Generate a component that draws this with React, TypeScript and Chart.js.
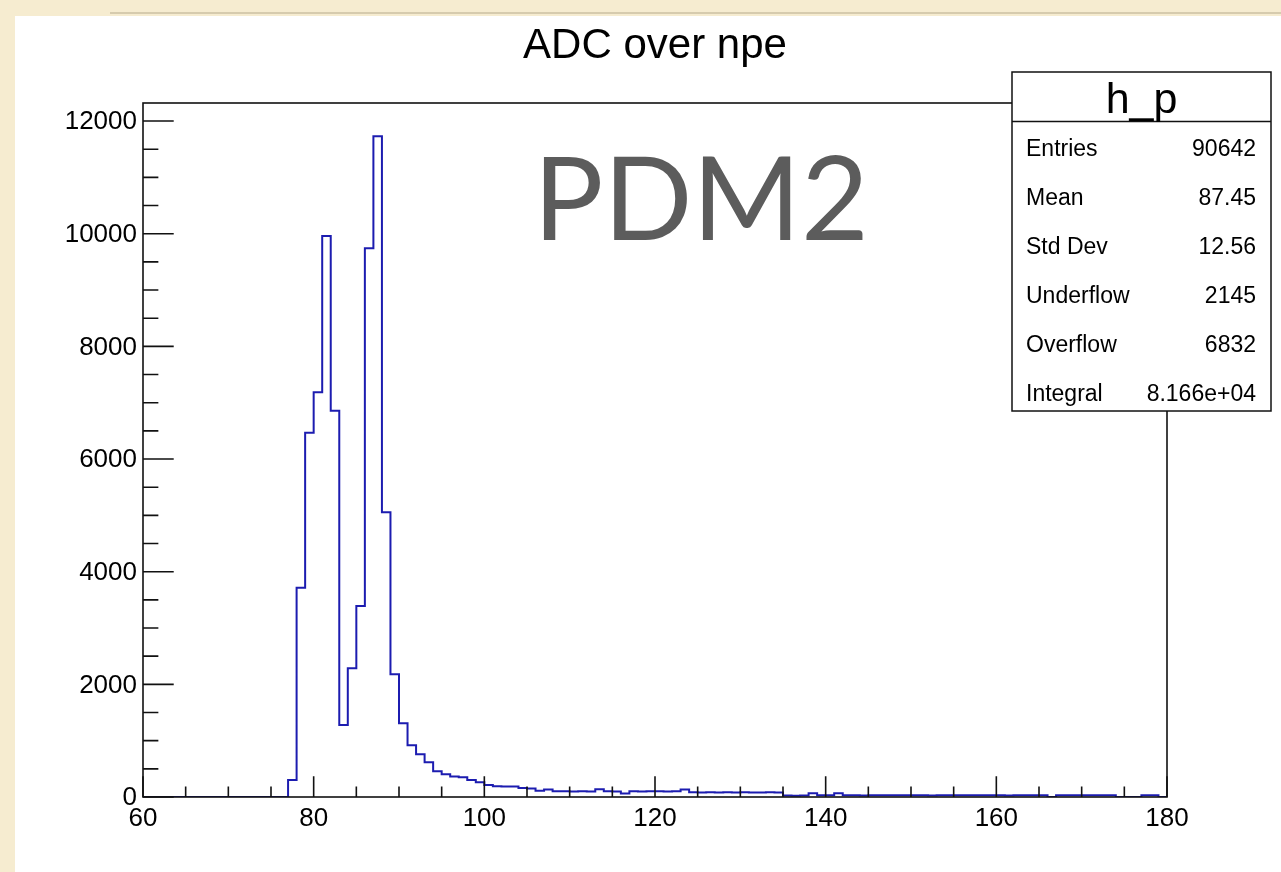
import React, { useEffect, useRef } from "react";
import { Chart, registerables } from "chart.js";

Chart.register(...registerables);

// ---- data ----
const xMin = 60;
const xMax = 180;
const binWidth = 1;
// bin contents for bins [60,61), [61,62), ... [179,180)
const counts = [
  0, 0, 0, 0, 0, 0, 0, 0, 0, 0, // 60-69
  0, 0, 0, 0, 0, 0, 0, 300, 3716, 6468, // 70-79
  7184, 9960, 6858, 1278, 2284, 3391, 9740, 11729, 5054, 2178, // 80-89
  1308, 920, 758, 616, 455, 403, 365, 350, 300, 264, // 90-99
  215, 190, 188, 186, 158, 152, 110, 135, 100, 100, // 100-109
  98, 100, 98, 136, 100, 98, 60, 100, 98, 100, // 110-119
  100, 98, 100, 132, 85, 82, 84, 80, 83, 82, // 120-129
  85, 80, 82, 84, 80, 25, 24, 26, 65, 30, // 130-139
  30, 65, 32, 30, 28, 33, 30, 31, 29, 30, // 140-149
  32, 30, 28, 30, 31, 30, 29, 33, 30, 30, // 150-159
  31, 28, 30, 32, 30, 29, 0, 30, 31, 30, // 160-169
  29, 30, 32, 30, 0, 0, 0, 30, 31, 0, // 170-179
];
const xTickLabels = ["60", "80", "100", "120", "140", "160", "180"];
const yTickLabels = ["0", "2000", "4000", "6000", "8000", "10000", "12000"];
const yMax = 12320;
const titleText = "ADC over npe";
const histName = "h_p";
const statsNames = ["Entries", "Mean", "Std Dev", "Underflow", "Overflow", "Integral"];
const statsValues = ["90642", "87.45", "12.56", "2145", "6832", "8.166e+04"];
const overlayText = "PDM2";

const FONT = '"Liberation Sans"';

const bgPlugin = {
  id: "bgPlugin",
  beforeDraw(chart: any) {
    const ctx = chart.ctx;
    ctx.save();
    ctx.fillStyle = "#f6ecd0";
    ctx.fillRect(0, 0, chart.width, chart.height);
    ctx.strokeStyle = "#d6cbae";
    ctx.lineWidth = 2;
    ctx.beginPath();
    ctx.moveTo(110, 13);
    ctx.lineTo(chart.width, 13);
    ctx.stroke();
    ctx.fillStyle = "#ffffff";
    ctx.fillRect(15, 16, chart.width - 15, chart.height - 16);
    ctx.restore();
  },
};

const rootAxesPlugin = {
  id: "rootAxes",
  afterDatasetsDraw(chart: any) {
    const ctx = chart.ctx;
    const xs = chart.scales.x;
    const ys = chart.scales.y;
    const { left, right, top, bottom } = chart.chartArea;
    const w = right - left;
    const h = bottom - top;
    ctx.save();
    ctx.strokeStyle = "#111";
    ctx.lineWidth = 1.6;
    ctx.strokeRect(left, top, w, h);

    // x ticks (major every 20, minor every 5)
    const xMajorLen = h * 0.03;
    ctx.beginPath();
    for (let v = xMin; v <= xMax; v += 5) {
      const px = xs.getPixelForValue(v);
      const major = xTickLabels.includes(String(v));
      ctx.moveTo(px, bottom);
      ctx.lineTo(px, bottom - (major ? xMajorLen : xMajorLen / 2));
    }
    // y ticks (major every 2000, minor every 500)
    const yMajorLen = w * 0.03;
    for (let v = 0; v <= yMax; v += 500) {
      const py = ys.getPixelForValue(v);
      const major = yTickLabels.includes(String(v));
      ctx.moveTo(left, py);
      ctx.lineTo(left + (major ? yMajorLen : yMajorLen / 2), py);
    }
    ctx.stroke();

    ctx.fillStyle = "#000";
    ctx.font = `26px ${FONT}`;
    ctx.textAlign = "center";
    ctx.textBaseline = "top";
    xTickLabels.forEach((t) => {
      ctx.fillText(t, xs.getPixelForValue(Number(t)), bottom + 9);
    });
    ctx.textAlign = "right";
    ctx.textBaseline = "middle";
    yTickLabels.forEach((t) => {
      ctx.fillText(t, left - 6, ys.getPixelForValue(Number(t)) + 1);
    });

    // title
    ctx.textAlign = "center";
    ctx.textBaseline = "alphabetic";
    ctx.font = `42px ${FONT}`;
    ctx.fillText(titleText, (left + right) / 2, 58);

    // overlay text
    ctx.fillStyle = "#5c5c5c";
    ctx.font = `117px Lato`;
    ctx.fillText(overlayText, 701, 240);

    // stats box
    const bx = 1012, by = 72, bw = 259, bh = 339;
    ctx.fillStyle = "#fff";
    ctx.fillRect(bx, by, bw, bh);
    ctx.strokeStyle = "#111";
    ctx.lineWidth = 1.5;
    ctx.strokeRect(bx, by, bw, bh);
    ctx.beginPath();
    ctx.moveTo(bx, 121.5);
    ctx.lineTo(bx + bw, 121.5);
    ctx.stroke();
    ctx.fillStyle = "#000";
    ctx.font = `43px ${FONT}`;
    ctx.textAlign = "center";
    ctx.fillText(histName, bx + bw / 2, 113);
    ctx.font = `23px ${FONT}`;
    statsNames.forEach((n, i) => {
      const yb = 156 + i * 49;
      ctx.textAlign = "left";
      ctx.fillText(n, 1026, yb);
      ctx.textAlign = "right";
      ctx.fillText(statsValues[i], 1256, yb);
    });
    ctx.restore();
  },
};

export default function App() {
  const canvasRef = useRef<HTMLCanvasElement | null>(null);

  useEffect(() => {
    const canvas = canvasRef.current;
    if (!canvas) return;
    const points = counts.map((c, i) => ({ x: xMin + i * binWidth, y: c }));
    points.push({ x: xMax, y: 0 });
    const chart = new Chart(canvas, {
      type: "line",
      data: {
        datasets: [
          {
            data: points,
            stepped: "before",
            borderColor: "#1c1cb0",
            borderWidth: 2,
            pointRadius: 0,
            fill: false,
          },
        ],
      },
      options: {
        responsive: false,
        animation: false,
        devicePixelRatio: 1,
        layout: { padding: { left: 143, top: 103, right: 114, bottom: 75 } },
        scales: {
          x: { type: "linear", min: xMin, max: xMax, display: false },
          y: { type: "linear", min: 0, max: yMax, display: false },
        },
        plugins: { legend: { display: false }, tooltip: { enabled: false }, title: { display: false } },
      },
      plugins: [bgPlugin, rootAxesPlugin],
    } as any);
    return () => chart.destroy();
  }, []);

  return (
    <div style={{ position: "fixed", left: 0, top: 0, width: 1281, height: 872 }}>
      <canvas ref={canvasRef} width={1281} height={872} style={{ width: 1281, height: 872, display: "block" }} />
    </div>
  );
}
